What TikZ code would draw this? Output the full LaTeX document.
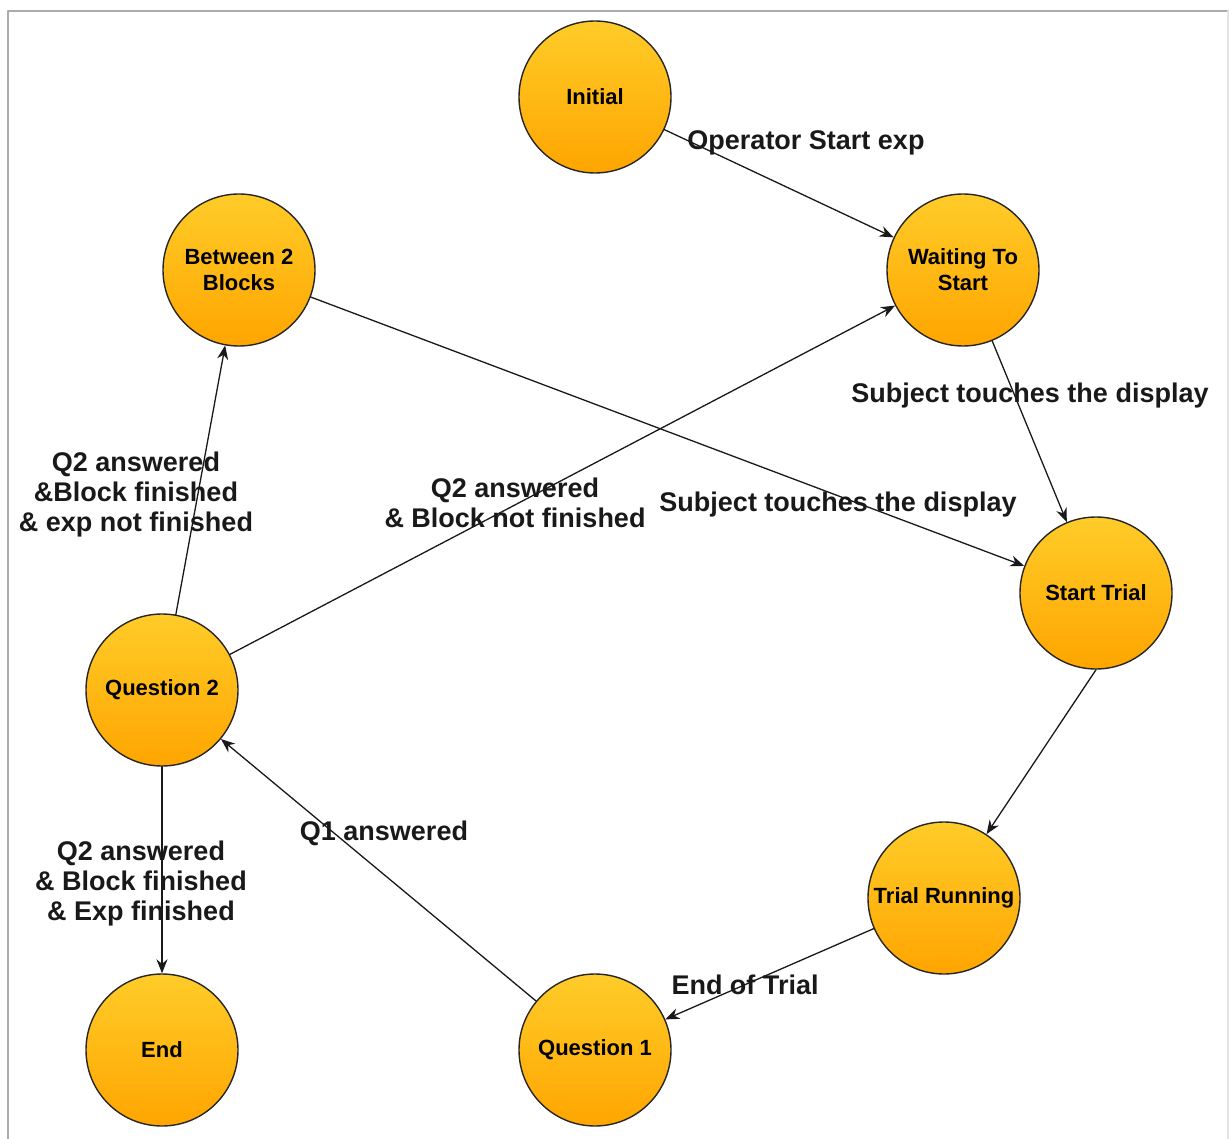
\documentclass[tikz,border=0pt]{standalone}
\usepackage{fontspec}
\setmainfont{Liberation Sans}
\usetikzlibrary{arrows.meta}
\definecolor{stTop}{RGB}{255,204,41}
\definecolor{stBot}{RGB}{255,165,0}
\begin{document}
\begin{tikzpicture}[x=1pt,y=-1pt,>={Stealth[length=14pt,width=11pt]},line join=round,line cap=round]
	\tikzset{
		state/.style={circle,draw=black!85,line width=1.4pt,minimum size=152pt,inner sep=0pt,
			top color=stTop,bottom color=stBot,align=center,font=\bfseries\fontsize{22}{26}\selectfont},
		lbl/.style={align=center,font=\bfseries\fontsize{27}{30}\selectfont,text=black!90,yshift=-2.5pt},
		arr/.style={->,line width=1.3pt,draw=black!90},
	}
	\useasboundingbox (0,0) rectangle (1229,1139);
	% frame
	\draw[gray!65,line width=2.5pt] (8,1139)--(8,11)--(1228,11);
	\draw[gray!20,line width=1.5pt] (1228,11)--(1228,1139);
	% states
	\node[state] (ini) at (595,97) {Initial};
	\node[state] (wait) at (963,270) {Waiting To\\Start};
	\node[state] (btw) at (239,270) {Between 2\\Blocks};
	\node[state] (st) at (1096,593) {Start Trial};
	\node[state] (q2) at (162,690) {Question 2};
	\node[state] (tr) at (944,898) {Trial Running};
	\node[state] (fin) at (162,1050) {End};
	\node[state] (q1) at (595,1050) {Question 1};
	% transitions
	\draw[arr] (ini)--(wait);
	\draw[arr] (wait)--(st);
	\draw[arr] (btw)--(st);
	\draw[arr] (st.south)--(tr);
	\draw[arr] (tr)--(q1);
	\draw[arr] (q1)--(q2);
	\draw[arr] (q2)--(wait);
	\draw[arr] (q2)--(btw);
	\draw[arr] (q2)--(fin);
	% labels
	\node[lbl] (lIni) at (806,140) {Operator Start exp};
	\node[lbl] (lWait) at (1030,393) {Subject touches the display};
	\node[lbl] (lBtw) at (838,502) {Subject touches the display};
	\node[lbl] (lQ2w) at (515,500) {Q2 answered\\\& Block not finished};
	\node[lbl] (lQ2b) at (136,492) {Q2 answered\\\&Block finished\\\& exp not finished};
	\node[lbl] (lQ1) at (384,831) {Q1 answered};
	\node[lbl] (lQ2e) at (141,881) {Q2 answered\\\& Block finished\\\& Exp finished};
	\node[lbl] (lTr) at (745,982) {End of Trial};
\end{tikzpicture}
\end{document}
